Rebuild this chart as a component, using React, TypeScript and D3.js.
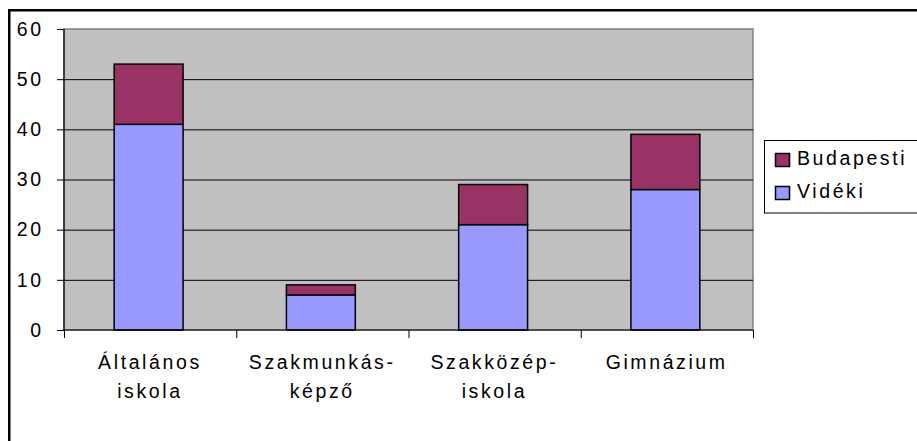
import React from 'react';
import * as d3 from 'd3';

const categories = ['Általános iskola', 'Szakmunkás- képző', 'Szakközép- iskola', 'Gimnázium'];
const labelLines = [['Általános', 'iskola'], ['Szakmunkás-', 'képző'], ['Szakközép-', 'iskola'], ['Gimnázium']];
const videki = [41, 7, 21, 28];
const budapesti = [12, 2, 8, 11];
const yTicks = [0, 10, 20, 30, 40, 50, 60];
const seriesNames = ['Budapesti', 'Vidéki'];
const seriesColors = ['#993366', '#9999FF'];

const W = 917;
const H = 441;
const plot = { left: 64, right: 753, top: 29, bottom: 330 };
const font = '"Liberation Sans", Arial, sans-serif';
const fs = 19.5;
const ls = 2.6;

const App = () => {
  const y = d3.scaleLinear().domain([0, 60]).range([plot.bottom, plot.top]);
  const xCat = d3.scaleBand().domain(categories).range([plot.left, plot.right]);
  const xBar = d3.scaleBand().domain(categories)
    .range([plot.left - 1.5, plot.right - 1.5])
    .paddingInner(0.6).paddingOuter(0.3);

  const rows = categories.map((c, i) => ({ cat: c, videki: videki[i], budapesti: budapesti[i] }));
  const stacked = d3.stack().keys(['videki', 'budapesti'])(rows as any);
  const fills = { videki: seriesColors[1], budapesti: seriesColors[0] };

  const boundaries = categories.map(c => xCat(c)).concat([plot.right]);

  return (
    <svg width={W} height={H} style={{ position: 'absolute', left: 0, top: 0, background: '#fff' }}
      fontFamily={font}>
      {/* chart frame, runs past the photo edge */}
      <rect x={9.25} y={10.25} width={1000} height={1000} fill="none" stroke="#000" strokeWidth={2.5} />

      {/* plot area */}
      <rect x={plot.left} y={plot.top} width={plot.right - plot.left} height={plot.bottom - plot.top}
        fill="#C0C0C0" stroke="#808080" strokeWidth={1.5} />

      {yTicks.filter(t => t > 0 && t < 60).map(t => (
        <line key={t} x1={plot.left} x2={plot.right} y1={y(t) + 0.5} y2={y(t) + 0.5} stroke="#000" strokeWidth={1} />
      ))}

      {stacked.map(s => s.map((d, i) => (
        <rect key={s.key + i}
          x={xBar(categories[i])} width={xBar.bandwidth()}
          y={y(d[1])} height={y(d[0]) - y(d[1])}
          fill={fills[s.key]} stroke="#000" strokeWidth={1.5} />
      )))}

      {/* axes */}
      <line x1={plot.left} x2={plot.left} y1={plot.top} y2={plot.bottom} stroke="#000" strokeWidth={1.2} />
      <line x1={plot.left} x2={plot.right} y1={plot.bottom} y2={plot.bottom} stroke="#000" strokeWidth={1.2} />
      {yTicks.map(t => (
        <g key={t}>
          <line x1={plot.left - 7} x2={plot.left} y1={y(t) + 0.5} y2={y(t) + 0.5} stroke="#000" />
          <text x={41 + ls} y={y(t)} dy="0.35em" textAnchor="end" fontSize={fs} letterSpacing={ls} fill="#000">{t}</text>
        </g>
      ))}
      {boundaries.map((b, i) => (
        <line key={i} x1={b + 0.5} x2={b + 0.5} y1={plot.bottom} y2={plot.bottom + 8} stroke="#000" />
      ))}
      {categories.map((c, i) => (
        <text key={c} textAnchor="middle" fontSize={fs} letterSpacing={ls} fill="#000">
          {labelLines[i].map((l, j) => (
            <tspan key={j} x={xCat(c) + xCat.bandwidth() / 2 + ls / 2 - 1.5} y={369 + j * 29}>{l}</tspan>
          ))}
        </text>
      ))}

      {/* legend */}
      <rect x={764.5} y={140.5} width={300} height={72.5} fill="#fff" stroke="#000" strokeWidth={1} />
      {seriesNames.map((n, i) => (
        <g key={n}>
          <rect x={775.5} y={153.5 + i * 33} width={14} height={13} fill={seriesColors[i]} stroke="#000" strokeWidth={1.5} />
          <text x={797} y={165 + i * 33} fontSize={fs} letterSpacing={ls} fill="#000">{n}</text>
        </g>
      ))}
    </svg>
  );
};

export default App;
